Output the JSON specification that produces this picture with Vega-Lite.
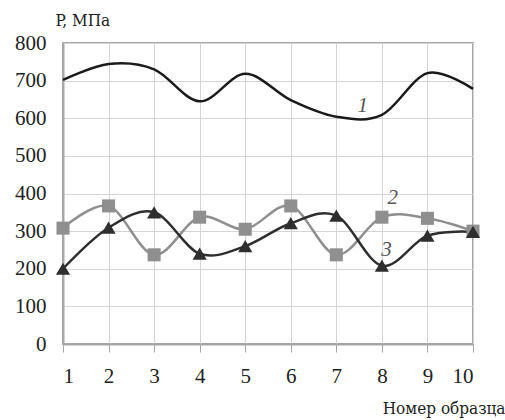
{
  "$schema": "https://vega.github.io/schema/vega-lite/v6.json",
  "width": 410,
  "height": 301,
  "autosize": "none",
  "padding": {"left": 63, "top": 43, "right": 32, "bottom": 76},
  "background": "white",
  "config": {
    "font": "Liberation Serif",
    "view": {"stroke": "#a6a6a6", "strokeWidth": 2},
    "axis": {"gridColor": "#d4d4d4", "gridWidth": 1, "domainColor": "#a6a6a6", "domainWidth": 2, "labelColor": "#222", "titleColor": "#222"}
  },
  "datasets": {
    "main": [
      {"n": 1, "P": 702, "s": "1"}, {"n": 2, "P": 744, "s": "1"}, {"n": 3, "P": 730, "s": "1"}, {"n": 4, "P": 645, "s": "1"}, {"n": 5, "P": 718, "s": "1"},
      {"n": 6, "P": 648, "s": "1"}, {"n": 7, "P": 604, "s": "1"}, {"n": 8, "P": 609, "s": "1"}, {"n": 9, "P": 720, "s": "1"}, {"n": 10, "P": 678, "s": "1"},
      {"n": 1, "P": 308, "s": "2"}, {"n": 2, "P": 367, "s": "2"}, {"n": 3, "P": 237, "s": "2"}, {"n": 4, "P": 337, "s": "2"}, {"n": 5, "P": 305, "s": "2"},
      {"n": 6, "P": 367, "s": "2"}, {"n": 7, "P": 237, "s": "2"}, {"n": 8, "P": 337, "s": "2"}, {"n": 9, "P": 334, "s": "2"}, {"n": 10, "P": 300, "s": "2"},
      {"n": 1, "P": 200, "s": "3"}, {"n": 2, "P": 309, "s": "3"}, {"n": 3, "P": 350, "s": "3"}, {"n": 4, "P": 240, "s": "3"}, {"n": 5, "P": 260, "s": "3"},
      {"n": 6, "P": 321, "s": "3"}, {"n": 7, "P": 341, "s": "3"}, {"n": 8, "P": 208, "s": "3"}, {"n": 9, "P": 288, "s": "3"}, {"n": 10, "P": 298, "s": "3"}
    ],
    "labels": [
      {"n": 7.58, "P": 633, "t": "1"},
      {"n": 8.24, "P": 388, "t": "2"},
      {"n": 8.1, "P": 250, "t": "3"}
    ]
  },
  "encoding": {
    "x": {"field": "n", "type": "quantitative", "scale": {"domain": [1, 10], "nice": false, "zero": false},
      "axis": {"values": [1,2,3,4,5,6,7,8,9,10], "labelFontSize": 21, "labelFont": "Liberation Serif", "labelPadding": 13, "tickSize": 8, "tickColor": "#a6a6a6", "tickWidth": 1,
        "title": "Номер образца", "titleFont": "DejaVu Serif Condensed, DejaVu Serif", "titleFontSize": 17, "titleFontWeight": "normal", "titleAlign": "right", "titleAnchor": "end", "titleX": 442, "titleY": 69, "titleBaseline": "alphabetic"}},
    "y": {"field": "P", "type": "quantitative", "scale": {"domain": [0, 800], "nice": false},
      "axis": {"values": [0,100,200,300,400,500,600,700,800], "ticks": false, "labelFontSize": 21, "labelFont": "Liberation Serif", "labelPadding": 17,
        "title": "P, МПа", "titleFont": "DejaVu Serif Condensed, DejaVu Serif", "titleFontSize": 17, "titleFontWeight": "normal", "titleAngle": 0, "titleAlign": "left", "titleX": -8, "titleY": -18, "titleBaseline": "alphabetic"}}
  },
  "layer": [
    {
      "data": {"name": "main"},
      "mark": {"type": "line", "interpolate": "cardinal", "strokeWidth": 2.5},
      "encoding": {
        "color": {"field": "s", "type": "nominal", "scale": {"domain": ["1","2","3"], "range": ["#1a1a1a", "#8f8f8f", "#2e2e2e"]}, "legend": null}
      }
    },
    {
      "data": {"name": "main"},
      "transform": [{"filter": "datum.s != '1'"}],
      "mark": {"type": "point", "filled": true, "opacity": 1},
      "encoding": {
        "color": {"field": "s", "type": "nominal", "scale": {"domain": ["1","2","3"], "range": ["#1a1a1a", "#8a8a8a", "#2e2e2e"]}, "legend": null},
        "shape": {"field": "s", "type": "nominal", "scale": {"domain": ["2","3"], "range": ["square", "triangle-up"]}, "legend": null},
        "size": {"field": "s", "type": "nominal", "scale": {"domain": ["2","3"], "range": [170, 200]}, "legend": null}
      }
    },
    {
      "data": {"name": "labels"},
      "mark": {"type": "text", "fontStyle": "italic", "fontSize": 21, "color": "#555", "font": "Liberation Serif"},
      "encoding": {"text": {"field": "t"}}
    }
  ]
}
